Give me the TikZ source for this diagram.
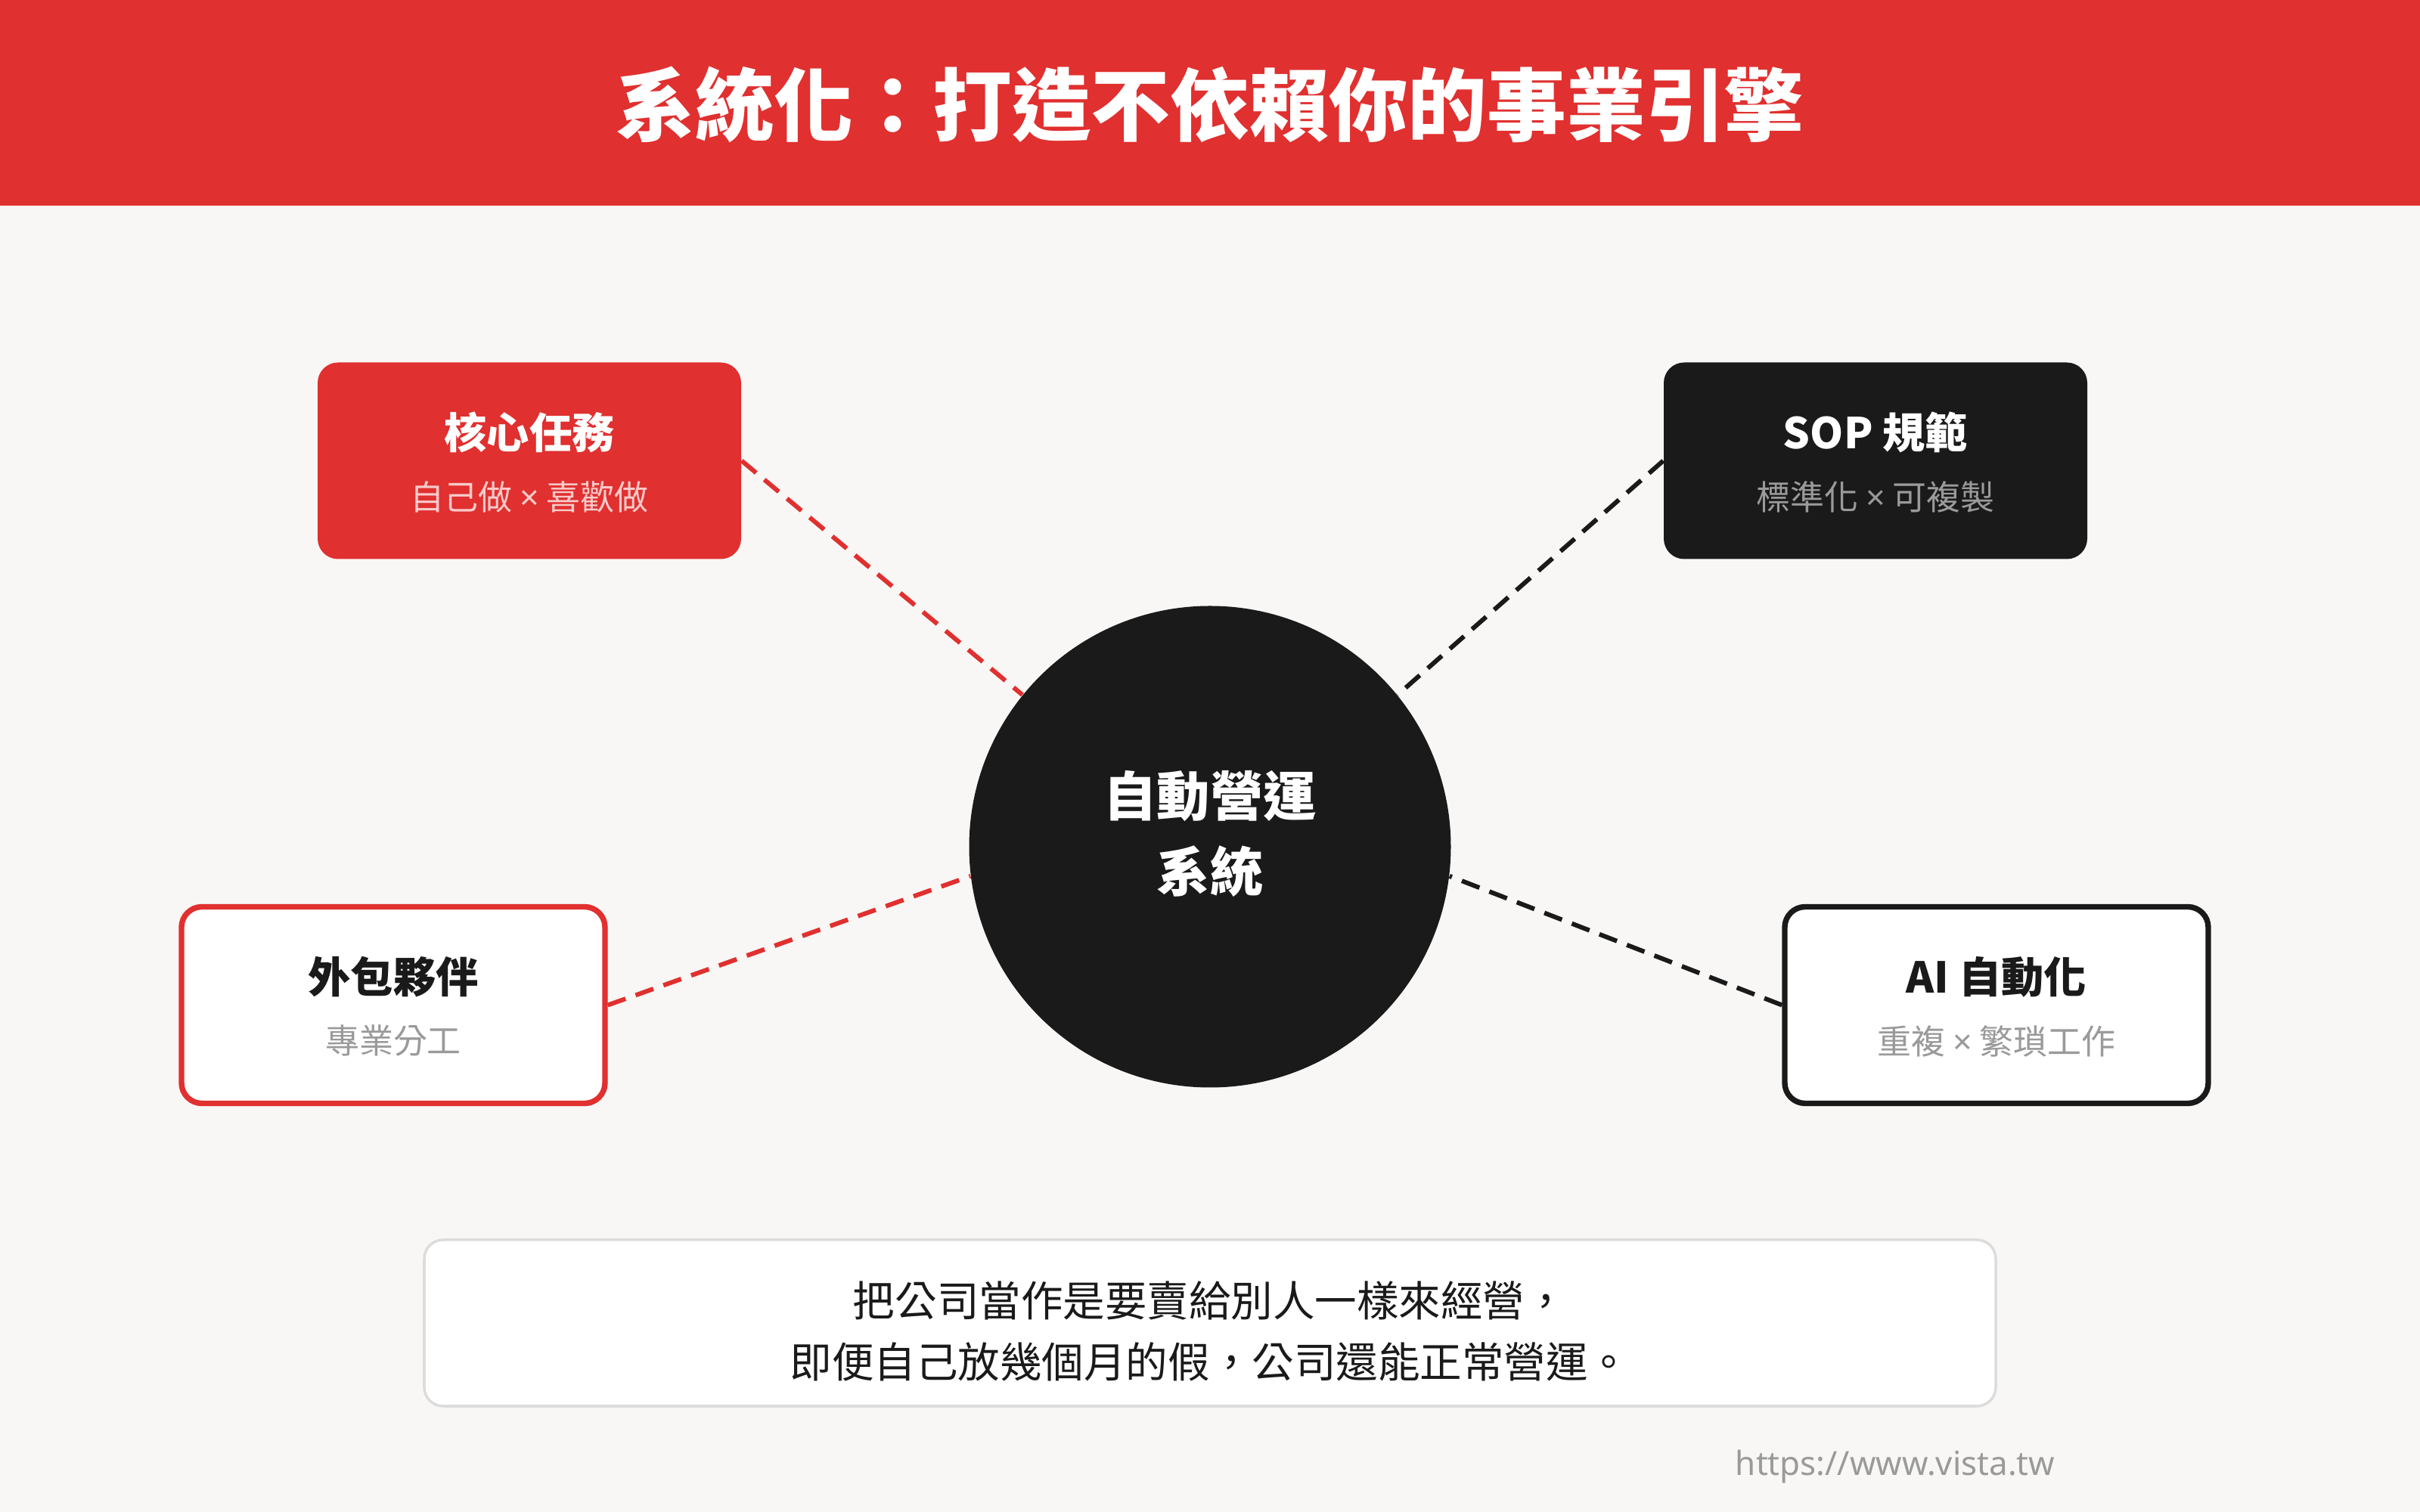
\documentclass[tikz,border=0pt]{standalone}
\usepackage{fontspec}
\setmainfont{Noto Sans CJK TC}
\newfontfamily\urlfont{Noto Sans}
\definecolor{brand}{HTML}{E0302F}
\definecolor{ink}{HTML}{1A1A1A}
\definecolor{paper}{HTML}{F8F7F5}
\definecolor{blush}{HTML}{F9CACA}
\definecolor{ash}{HTML}{9A9A9A}
\definecolor{mist}{HTML}{DCDCDC}
\newcommand{\tms}{{\urlfont ×}}
\begin{document}
\begin{tikzpicture}[
		card/.style={rounded corners=0.27cm,minimum width=5.6cm,minimum height=2.6cm,inner sep=0},
		cardtitle/.style={font=\fontsize{16}{20}\bfseries\selectfont},
		cardsub/.style={font=\fontsize{12.8}{16}\selectfont},
		link/.style={line width=1.7pt,dash pattern=on 7.1pt off 4pt}
	]
				\useasboundingbox (0,0) rectangle (32,20);
				\fill [paper] (0,0) rectangle (32,20);
				\fill [brand] (0,17.28) rectangle (32,20);
				\node (title) [white,font=\fontsize{29.8}{36}\bfseries\selectfont] at (16,18.62) {系統化：打造不依賴你的事業引擎};
				% hub
				\node (hub) [circle,fill=ink,minimum size=6.37cm,inner sep=0] at (16,8.8) {};
				\node (hubtext) [white,align=center,font=\fontsize{20}{28.5}\bfseries\selectfont] at (16,8.97) {自動營運\\系統};
				% four cards
				\node (core) [card,fill=brand] at (7,13.905) {};
				\node (sop) [card,fill=ink] at (24.8,13.905) {};
				\node (partner) [card,fill=white,draw=brand,line width=2.1pt] at (5.2,6.705) {};
				\node (ai) [card,fill=white,draw=ink,line width=2.1pt] at (26.4,6.705) {};
				\node (coretitle) [cardtitle,white] at (7,14.28) {核心任務};
				\node (coresub) [cardsub,blush] at (7,13.43) {自己做 \tms{} 喜歡做};
				\node (soptitle) [cardtitle,white] at (24.8,14.28) {SOP 規範};
				\node (sopsub) [cardsub,ash] at (24.8,13.43) {標準化 \tms{} 可複製};
				\node (partnertitle) [cardtitle,ink] at (5.2,7.08) {外包夥伴};
				\node (partnersub) [cardsub,ash] at (5.2,6.23) {專業分工};
				\node (aititle) [cardtitle,ink] at (26.4,7.08) {AI 自動化};
				\node (aisub) [cardsub,ash] at (26.4,6.23) {重複 \tms{} 繁瑣工作};
				% dashed links
				\foreach \nd/\side/\rim/\col in {core/east/141/brand,sop/west/39/ink,partner/east/187/brand,ai/west/353/ink}
					\draw [link,\col] (\nd.\side) -- (hub.\rim);
				% note
				\node (note) [fill=white,draw=mist,line width=1pt,rounded corners=0.25cm,minimum width=20.78cm,minimum height=2.2cm] at (16,2.5) {};
				\node (notetext) [ink,align=center,font=\fontsize{15.8}{23}\selectfont] at (16,2.395) {把公司當作是要賣給別人一樣來經營，\\即便自己放幾個月的假，公司還能正常營運。};
				\node (url) [ash,anchor=base east,inner sep=0,font=\urlfont\fontsize{12.5}{15}\selectfont] at (27.18,0.48) {https://www.vista.tw};
			\end{tikzpicture}
\end{document}
